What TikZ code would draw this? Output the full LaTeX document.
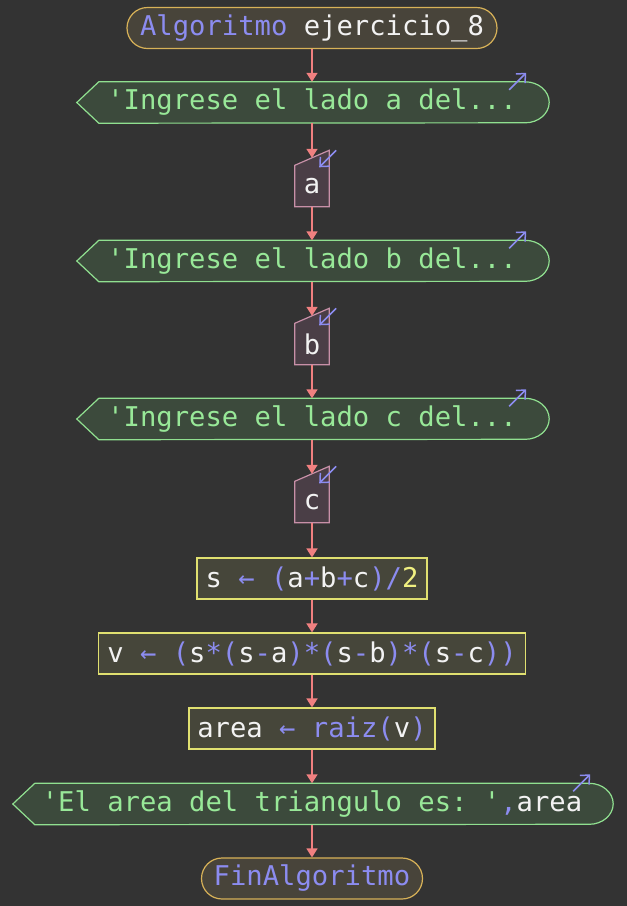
\documentclass[tikz,border=0pt]{standalone}
\usepackage{fontspec}
\setmonofont{DejaVu Sans Mono}
\usetikzlibrary{arrows.meta,calc,backgrounds}

\definecolor{bgc}{HTML}{333333}
\definecolor{termfill}{HTML}{48443A}
\definecolor{termdraw}{HTML}{D8B258}
\definecolor{outfill}{HTML}{3C4A3C}
\definecolor{outdraw}{HTML}{90E090}
\definecolor{infill}{HTML}{4A3E46}
\definecolor{indraw}{HTML}{C890A8}
\definecolor{procfill}{HTML}{46463A}
\definecolor{procdraw}{HTML}{E0E070}
\definecolor{flowc}{HTML}{F08080}
\definecolor{kwc}{HTML}{8C8CF0}
\definecolor{strc}{HTML}{98E898}
\definecolor{numc}{HTML}{F0F080}
\definecolor{txtc}{HTML}{F2F2F2}

\newcommand\kw[1]{\textcolor{kwc}{#1}}
\newcommand\strlit[1]{\textcolor{strc}{#1}}
\newcommand\numlit[1]{\textcolor{numc}{#1}}

\begin{document}
\begin{tikzpicture}[x=1pt,y=1pt,
  base/.style={inner sep=0pt, font=\ttfamily\fontsize{27.2}{30}\selectfont, text=txtc, minimum height=41pt},
  term/.style={base, draw=termdraw, fill=termfill, rounded corners=20.5pt, line width=1.2pt},
  proc/.style={base, draw=procdraw, fill=procfill, line width=1.1pt},
  outbox/.style={base},
  inbox/.style={base, minimum width=34pt},
  outshape/.style={draw=outdraw, fill=outfill, line width=1.2pt},
  inshape/.style={draw=indraw, fill=infill, line width=1.2pt},
  flow/.style={draw=flowc, line width=1.5pt, -{Triangle[width=11pt,length=9pt]}},
  hint/.style={draw=kwc, line width=1.5pt, -{Straight Barb[length=7pt,width=13pt]}}
]
\useasboundingbox (0,0) rectangle (627,-906);

% nodes of the flowchart
\node[term, minimum width=370pt] (start) at (312,-28) {\kw{Algoritmo} ejercicio\_8};
\node[outbox, minimum width=426pt] (o1) at (312,-102.5) {\strlit{'Ingrese el lado a del...}};
\node[inbox] (ia) at (312,-186) {a};
\node[outbox, minimum width=426pt] (o2) at (312,-261) {\strlit{'Ingrese el lado b del...}};
\node[inbox] (ib) at (312,-344) {b};
\node[outbox, minimum width=426pt] (o3) at (312,-419) {\strlit{'Ingrese el lado c del...}};
\node[inbox] (ic) at (312,-502) {c};
\node[proc, minimum width=230pt] (ps) at (312,-578.5) {s \kw{← (}a\kw{+}b\kw{+}c\kw{)/}\numlit{2}};
\node[proc, minimum width=427pt] (pv) at (312,-653.5) {v \kw{← (}s\kw{*(}s\kw{-}a\kw{)*(}s\kw{-}b\kw{)*(}s\kw{-}c\kw{))}};
\node[proc, minimum width=246pt] (pa) at (312,-728.5) {area \kw{← raiz(}v\kw{)}};
\node[outbox, minimum width=554pt] (of) at (312,-804) {\strlit{'El area del triangulo es: '}\kw{,}area};
\node[term, minimum width=221pt] (fin) at (312,-878.5) {\kw{FinAlgoritmo}};

% shapes of the output and input steps, behind their texts
\begin{scope}[on background layer]
  \fill[bgc] (0,0) rectangle (627,-906);
  \foreach \o in {o1,o2,o3,of} {
    \filldraw[outshape] ($(\o.west)+(-22,0)$) -- (\o.north west) -- (\o.north east)
      arc[start angle=90,end angle=-90,x radius=24,y radius=20.5]
      -- (\o.south west) -- cycle;
  }
  \foreach \i in {ia,ib,ic} {
    \filldraw[inshape] (\i.south west) -- (\i.north west)
      -- ($(\i.north east)+(0,15)$) -- (\i.south east) -- cycle;
  }
\end{scope}

% entry points on the slanted tops of the inputs
\foreach \i in {ia,ib,ic} {
  \coordinate (\i-in) at ($(\i.north)+(0,7.5)$);
}

% small direction marks
\foreach \o in {o1,o2,o3,of} {
  \draw[hint] ($(\o.north east)+(-16,-8)$) -- ($(\o.north east)+(1,9)$);
}
\foreach \i in {ia,ib,ic} {
  \draw[hint] ($(\i.north east)+(7,15)$) -- ($(\i.north east)+(-10,-2)$);
}

% connectors
\draw[flow] (start.south) -- (o1.north);
\draw[flow] (o1.south) -- (ia-in);
\draw[flow] (ia.south) -- (o2.north);
\draw[flow] (o2.south) -- (ib-in);
\draw[flow] (ib.south) -- (o3.north);
\draw[flow] (o3.south) -- (ic-in);
\draw[flow] (ic.south) -- (ps.north);
\draw[flow] (ps.south) -- (pv.north);
\draw[flow] (pv.south) -- (pa.north);
\draw[flow] (pa.south) -- (of.north);
\draw[flow] (of.south) -- (fin.north);
\end{tikzpicture}
\end{document}
